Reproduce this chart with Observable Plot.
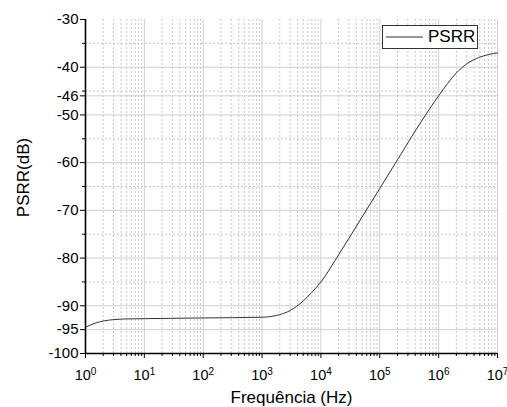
<!DOCTYPE html>
<html><head><meta charset="utf-8">
<script src="https://cdn.jsdelivr.net/npm/d3@7"></script>
<script src="https://cdn.jsdelivr.net/npm/@observablehq/plot@0.6"></script>
<style>
body{margin:0;background:#fff;}
#wrap{position:relative;width:507px;height:407px;font-family:"Liberation Sans",Arial,sans-serif;}
#legend{position:absolute;left:382px;top:25px;width:94px;height:22px;border:1px solid #333;background:#fff;display:flex;align-items:center;}
#legend span{font-size:17px;color:#000;margin-left:5px;}
</style>
</head><body><div id="wrap"><div id="chart"></div><div id="legend"><svg width="40" height="10"><line x1="3" y1="5" x2="40" y2="5" stroke="#333" stroke-width="1"/></svg><span></span></div></div>
<script>
const freq = [1, 1.5, 2, 3, 5, 10, 100, 1000, 2000, 3000, 5000, 7000, 1e4, 2e4, 5e4, 1e5, 2e5, 5e5, 1e6, 2e6, 3e6, 5e6, 1e7];
const psrr = [-94.5, -93.6, -93.2, -92.9, -92.75, -92.7, -92.55, -92.4, -91.85, -91.0, -89.0, -87.2, -85.0, -79.3, -71.4, -65.4, -59.4, -51.5, -46.0, -41.2, -39.3, -37.9, -37.0];
const yTicks = [-30, -40, -46, -50, -60, -70, -80, -90, -95, -100];
const yMinor = [-35, -45, -55, -65, -75, -85];
const xDecades = [1, 10, 100, 1000, 1e4, 1e5, 1e6, 1e7];
const xMinorMult = [2, 3, 4, 5, 6, 7, 8, 9];
const seriesName = "PSRR";
const xLabel = "Frequência (Hz)";
const yLabel = "PSRR(dB)";

const data = freq.map((f, i) => ({f, v: psrr[i]}));
const xMinor = xDecades.slice(0, -1).flatMap(d => xMinorMult.map(m => d * m));
const gridMajorY = yTicks.filter(v => v !== -30 && v !== -100);
const gridMajorX = xDecades.filter(v => v !== 1);

const plot = Plot.plot({
  width: 507, height: 407,
  marginLeft: 85, marginRight: 10, marginTop: 19, marginBottom: 54,
  style: {fontFamily: '"Liberation Sans", Arial, sans-serif', background: "#fff", color: "#000"},
  x: {type: "log", domain: [1, 1e7]},
  y: {domain: [-100, -30]},
  marks: [
    Plot.gridX(xMinor, {stroke: "#c8c8c8", strokeOpacity: 1, strokeDasharray: "2,2"}),
    Plot.gridY(yMinor, {stroke: "#c8c8c8", strokeOpacity: 1, strokeDasharray: "2,2"}),
    Plot.gridX(gridMajorX, {stroke: "#cfcfcf", strokeOpacity: 1}),
    Plot.gridY(gridMajorY, {stroke: "#cfcfcf", strokeOpacity: 1}),
    Plot.line(data, {x: "f", y: "v", stroke: "#333", strokeWidth: 1, curve: "monotone-x"}),
    Plot.axisY(yTicks, {tickSize: 5, tickPadding: 2, fontSize: 15, label: null, tickFormat: d => String(d)}),
    Plot.axisY(yMinor, {tickSize: 3, tickFormat: () => "", label: null}),
    Plot.axisX(xDecades, {tickSize: 5, tickPadding: 11, fontSize: 14.5, label: null, tickFormat: d => "10^" + Math.round(Math.log10(d))}),
    Plot.axisX(xMinor, {tickSize: 3, tickFormat: () => "", label: null}),
    Plot.ruleX([1], {stroke: "#000", strokeWidth: 1.6}),
    Plot.ruleY([-100], {stroke: "#000", strokeWidth: 1.6}),
    Plot.text([yLabel], {frameAnchor: "left", textAnchor: "middle", lineAnchor: "middle", rotate: -90, dx: -62, dy: -9, fontSize: 17, fill: "#000"}),
    Plot.text([xLabel], {frameAnchor: "bottom", lineAnchor: "middle", dy: 44, fontSize: 17, fill: "#000"})
  ]
});
document.getElementById("chart").appendChild(plot);
const ns = "http://www.w3.org/2000/svg";
plot.querySelectorAll("text").forEach(t => {
  const s = t.textContent;
  if (/^[-\u2212]\d+$/.test(s)) {
    t.style.fontSize = "15px";
  }
  if (s.startsWith("10^")) {
    t.style.fontSize = "14.5px";
    t.textContent = "10";
    const ts = document.createElementNS(ns, "tspan");
    ts.setAttribute("dy", "-0.45em");
    ts.style.fontSize = "10px";
    ts.textContent = s.slice(3);
    t.appendChild(ts);
  }
});
document.querySelector("#legend span").textContent = seriesName;
</script>
</body></html>
